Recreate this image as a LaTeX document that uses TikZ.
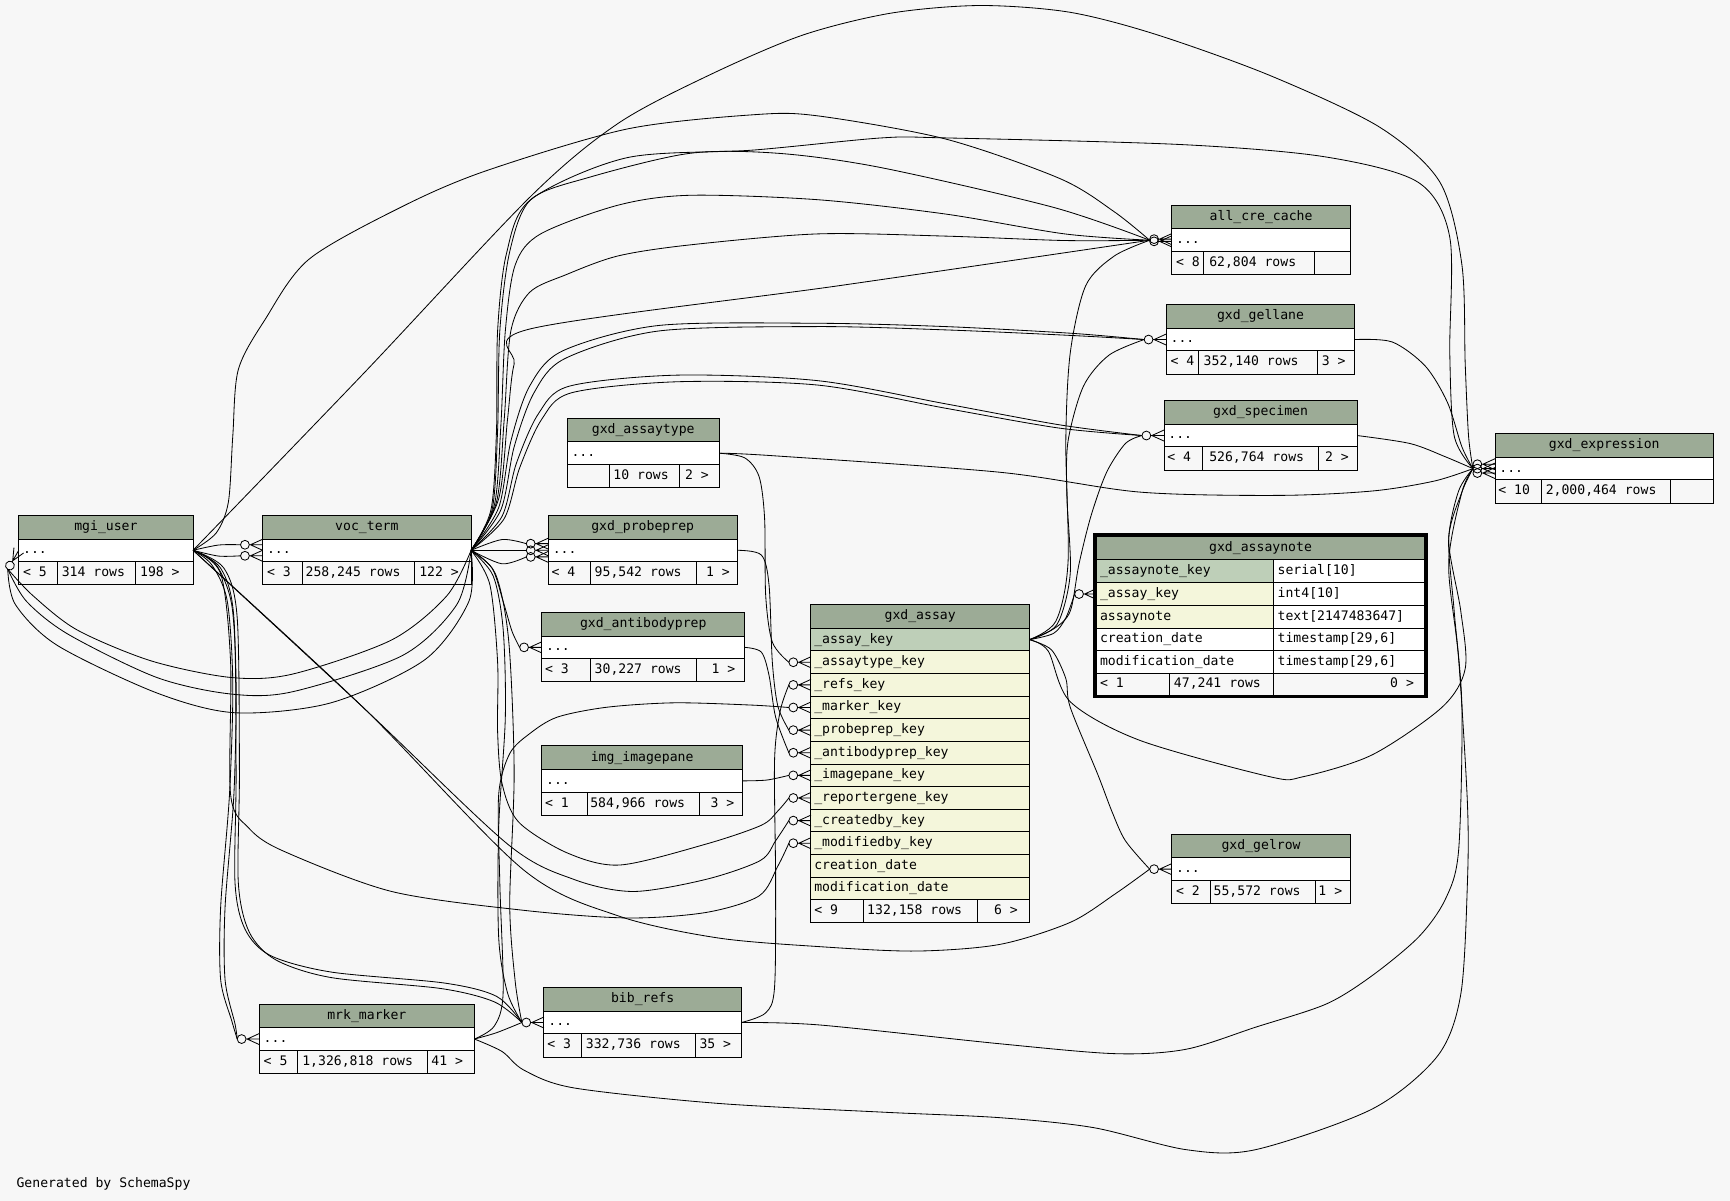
\documentclass[tikz,border=0pt]{standalone}
\usepackage{fontspec}
\setmainfont{DejaVu Sans Mono}
\definecolor{bgc}{RGB}{247,247,247}
\definecolor{hdrc}{RGB}{156,171,150}
\definecolor{keyc}{RGB}{190,207,184}
\definecolor{yelc}{RGB}{244,246,219}

\begin{document}
\begin{tikzpicture}[x=1pt,y=-1pt,
  every node/.style={font=\fontsize{11.9}{14}\selectfont,inner sep=0pt,outer sep=0pt,text height=8.7pt,text depth=2.5pt},
  cell/.style={draw,line width=0.85pt},
  rel/.style={line width=0.75pt},
  pics/crowodot/.style={code={
    \draw[rel] (-16,0) circle[radius=4pt];
    \draw[rel] (-12,0) -- (0,0) (-11,0) -- (0,-5) (-11,0) -- (0,5);}}]
\fill[bgc] (0,0) rectangle (1568,1088.5);
\useasboundingbox (0,0) rectangle (1568,1088.5);

% collapsed tables: name/title/x/y/width/sep/sep/footer/footer x
\foreach \nm/\ti/\x/\y/\ww/\sepa/\sepb/\fa/\fb/\fc/\pa/\pb/\pc in {
  mgi/mgi\_user/17/467/158/52/123/{< 5}/{314 rows}/{198 >}/21/56/127,
  voc/voc\_term/238/467/189/274/376/{< 3}/{258,245 rows}/{122 >}/242/277/380,
  prb/gxd\_probeprep/497/467/171/535/631/{< 4}/{95,542 rows}/{1 >}/500/539/640,
  ab/gxd\_antibodyprep/491/555/184/535/631/{< 3}/{30,227 rows}/{1 >}/494/539/645,
  img/img\_imagepane/491/676/182/532/634/{< 1}/{584,966 rows}/{3 >}/494/535/644,
  bib/bib\_refs/493/895/179/527/630/{< 3}/{332,736 rows}/{35 >}/496/531/634,
  mrk/mrk\_marker/235/910/195/270/387/{< 5}/{1,326,818 rows}/{41 >}/239/274/391,
  aty/gxd\_assaytype/514/379/138/552/616/{}/{10 rows}/{2 >}/517/556/621,
  acc/all\_cre\_cache/1062/186/162/1091/1191/{< 8}/{62,804 rows}/{}/1066/1096/1195,
  gel/gxd\_gellane/1057/276/171/1086/1194/{< 4}/{352,140 rows}/{3 >}/1061/1091/1198,
  spc/gxd\_specimen/1055/363/175/1090/1195/{< 4}/{526,764 rows}/{2 >}/1058/1096/1201,
  exp/gxd\_expression/1355/393/198/1397/1514/{< 10}/{2,000,464 rows}/{}/1358/1401/1518,
  gr/gxd\_gelrow/1062/756/162/1097/1192/{< 2}/{55,572 rows}/{1 >}/1066/1100/1195}{
  \draw[cell,fill=hdrc] (\x,\y) rectangle ++(\ww,21.5);
  \node (\nm-hd) at (\x+\ww/2,\y+10.75) {\ti};
  \node[cell,fill=white,anchor=north west,minimum width=\ww pt,minimum height=20.5pt] (\nm) at (\x,\y+21.5) {};
  \node[anchor=west] (\nm-dt) at (\x+4,\y+31.75) {...};
  \draw[cell] (\x,\y+42) rectangle ++(\ww,21) (\sepa,\y+42) -- ++(0,21) (\sepb,\y+42) -- ++(0,21);
  \node[anchor=west] (\nm-fa) at (\pa,\y+52.5) {\fa};
  \node[anchor=west] (\nm-fb) at (\pb,\y+52.5) {\fb};
  \node[anchor=west] (\nm-fc) at (\pc,\y+52.5) {\fc};
}

% gxd_assay
\draw[cell,fill=hdrc] (735,548) rectangle ++(198,21.5);
\node (asy-hd) at (834,558.75) {gxd\_assay};
\foreach \rw/\cn/\fl/\i in {akey/\_assay\_key/keyc/0, atype/\_assaytype\_key/yelc/1,
  arefs/\_refs\_key/yelc/2, amark/\_marker\_key/yelc/3, aprobe/\_probeprep\_key/yelc/4,
  aanti/\_antibodyprep\_key/yelc/5, aimg/\_imagepane\_key/yelc/6, arep/\_reportergene\_key/yelc/7,
  acre/\_createdby\_key/yelc/8, amod/\_modifiedby\_key/yelc/9, acd/creation\_date/yelc/10,
  amd/modification\_date/yelc/11}{
  \node[cell,fill=\fl,anchor=north west,minimum width=198pt,minimum height=20.5pt] (\rw) at (735,569.5+20.5*\i) {};
  \node[anchor=west] (\rw-t) at (738,579.75+20.5*\i) {\cn};
}
\draw[cell] (735,815.5) rectangle ++(198,21) (783,815.5) -- ++(0,21) (886,815.5) -- ++(0,21);
\node[anchor=west] (asy-fa) at (738,826) {< 9};
\node[anchor=west] (asy-fb) at (786,826) {132,158 rows};
\node[anchor=west] (asy-fc) at (901,826) {6 >};

% gxd_assaynote
\draw[cell,fill=hdrc] (994,486) rectangle (1291,507.5);
\node (note-hd) at (1142.5,497) {gxd\_assaynote};
\foreach \rw/\cn/\ty/\fl/\i in {nkey/\_assaynote\_key/serial[10]/keyc/0,
  nakey/\_assay\_key/int4[10]/yelc/1, nnote/assaynote/text[2147483647]/yelc/2,
  ncd/creation\_date/{timestamp[29,6]}/white/3, nmd/modification\_date/{timestamp[29,6]}/white/4}{
  \node[cell,fill=\fl,anchor=north west,minimum width=160.5pt,minimum height=20.6pt] (\rw) at (994,507.5+20.6*\i) {};
  \draw[cell,fill=white] (1154.5,507.5+20.6*\i) rectangle ++(136.5,20.6);
  \node[anchor=west] (\rw-t) at (997,517.8+20.6*\i) {\cn};
  \node[anchor=west] (\rw-ty) at (1158,517.8+20.6*\i) {\ty};
}
\draw[cell] (994,610.5) rectangle (1291,630) (1060,610.5) -- (1060,630) (1154.5,610.5) -- (1154.5,630);
\node[anchor=west] (note-fa) at (997,620.25) {< 1};
\node[anchor=west] (note-fb) at (1064,620.25) {47,241 rows};
\node[anchor=west] (note-fc) at (1260,620.25) {0 >};
\draw[line width=3pt] (992.5,484.5) rectangle (1292.5,631.5);

% free ends of the relations
\coordinate (mgi-in) at ([shift={(-10pt,-17pt)}]mgi.west);
\coordinate (voc-in1) at ([shift={(-20pt,5pt)}]voc.west);
\coordinate (voc-in2) at ([shift={(-20pt,-5pt)}]voc.west);
\coordinate (prb-in1) at ([shift={(-20pt,6pt)}]prb.west);
\coordinate (prb-in2) at ([xshift=-20pt]prb.west);
\coordinate (prb-in3) at ([shift={(-20pt,-6pt)}]prb.west);
\foreach \p in {ab,acc,gel,spc,exp,gr,bib,mrk,atype,arefs,amark,aprobe,aanti,aimg,arep,acre,amod,nakey}
  \coordinate (\p-in) at ([xshift=-20pt]\p.west);

% mgi_user
\draw[rel] plot[smooth] coordinates {(mgi.east) (198,494) (voc-in1)};
\draw[rel] plot[smooth] coordinates {(mgi.east) (198,504) (voc-in2)};
\draw[rel] plot[smooth] coordinates {(mgi.east) (196,483) (207,455) (211,395) (216,335) (240,290) (280,235) (365,187) (440,155) (568,117) (683,104) (741,105) (857,126) (961,162) (1010,192) (acc-in)};
\draw[rel] plot[smooth] coordinates {(mgi.east) (330,338) (481,178) (560,112) (643,68) (727,32) (807,12) (888,5) (969,11) (1047,31) (1150,68) (1250,115) (1305,165) (1325,240) (1328,330) (1331,395) (exp-in)};
\draw[rel] plot[smooth] coordinates {(mgi.east) (330,642) (474,788) (560,830) (650,850) (743,858) (830,862) (906,856) (970,836) (1011,810) (gr-in)};
\draw[rel] plot[smooth] coordinates {(mgi.east) (330,642) (460,765) (520,797) (574,808) (640,797) (689,780) (703,762) (acre-in)};
\draw[rel] plot[smooth] coordinates {(mgi.east) (192,512) (206,545) (211,620) (208,720) (200,822) (200,888) (210,925) (mrk-in)};
\draw[rel] plot[smooth] coordinates {(mgi.east) (196,512) (210,548) (214,620) (212,720) (204,822) (204,888) (213,928) (mrk-in)};
\draw[rel] plot[smooth] coordinates {(mgi.east) (200,515) (212,560) (214,700) (213,800) (222,842) (245,866) (300,881) (403,891) (450,903) (bib-in)};
\draw[rel] plot[smooth] coordinates {(mgi.east) (203,515) (215,560) (217,700) (216,800) (226,845) (250,870) (300,886) (400,896) (448,908) (bib-in)};
\draw[rel] plot[smooth] coordinates {(mgi.east) (200,520) (209,600) (209,720) (225,750) (256,771) (355,808) (474,825) (569,832) (640,827) (688,812) (705,785) (amod-in)};

% voc_term
\draw[rel] plot[smooth] coordinates {(voc.east) (405,540) (355,580) (265,611) (209,614) (137,599) (70,571) (30,540) (mgi-in)};
\draw[rel] plot[smooth] coordinates {(voc.east) (414,548) (365,594) (265,627) (209,629) (142,614) (62,575) (24,545) (mgi-in)};
\draw[rel] plot[smooth] coordinates {(voc.east) (425,545) (385,598) (300,637) (213,646) (142,628) (52,585) (14,548) (mgi-in)};
\draw[rel] plot[smooth] coordinates {(voc.east) (455,489) (prb-in1)};
\draw[rel] plot[smooth] coordinates {(voc.east) (prb-in2)};
\draw[rel] plot[smooth] coordinates {(voc.east) (455,511) (prb-in3)};
\draw[rel] plot[smooth] coordinates {(voc.east) (446,515) (456,545) (464,572) (ab-in)};
\draw[rel] plot[smooth] coordinates {(voc.east) (446,462) (451,390) (453,300) (462,228) (481,181) (533,161) (625,139) (706,139) (799,152) (955,188) (acc-in)};
\draw[rel] plot[smooth] coordinates {(voc.east) (448,458) (454,385) (458,300) (467,240) (490,212) (560,186) (625,177) (741,181) (857,194) (965,212) (acc-in)};
\draw[rel] plot[smooth] coordinates {(voc.east) (450,455) (457,380) (463,300) (480,265) (513,249) (560,232) (625,222) (741,212) (857,214) (965,218) (acc-in)};
\draw[rel] plot[smooth] coordinates {(voc.east) (452,452) (460,380) (466,330) (481,298) (760,259) (acc-in)};
\draw[rel] plot[smooth] coordinates {(voc.east) (452,460) (463,400) (480,350) (510,318) (597,295) (741,293) (857,296) (970,302) (gel-in)};
\draw[rel] plot[smooth] coordinates {(voc.east) (454,462) (466,405) (484,356) (512,325) (597,300) (741,296) (857,299) (970,304) (gel-in)};
\draw[rel] plot[smooth] coordinates {(voc.east) (455,468) (468,420) (488,375) (516,350) (614,340) (741,345) (857,366) (960,385) (spc-in)};
\draw[rel] plot[smooth] coordinates {(voc.east) (457,470) (471,424) (491,380) (518,356) (614,346) (741,349) (857,370) (960,388) (spc-in)};
\draw[rel] plot[smooth] coordinates {(voc.east) (445,462) (450,390) (451,300) (459,230) (481,181) (568,143) (683,136) (799,125) (857,125) (1070,131) (1200,142) (1285,165) (1314,215) (1314,320) (1318,395) (exp-in)};
\draw[rel] plot[smooth] coordinates {(voc.east) (444,530) (451,600) (451,663) (455,710) (470,745) (514,773) (562,784) (640,765) (690,748) (705,735) (arep-in)};
\draw[rel] plot[smooth] coordinates {(voc.east) (447,522) (456,570) (458,650) (452,750) (452,850) (460,900) (bib-in)};
\draw[rel] plot[smooth] coordinates {(voc.east) (449,520) (461,580) (466,700) (462,820) (467,890) (bib-in)};

% the other tables
\draw[rel] plot[smooth] coordinates {(aty.east) (675,415) (688,432) (693,470) (694,540) (700,582) (atype-in)};
\draw[rel] plot[smooth] coordinates {(aty.east) (700,413) (906,428) (1033,446) (1159,449) (1244,445) (1300,436) (exp-in)};
\draw[rel] plot[smooth] coordinates {(prb.east) (690,503) (697,530) (700,600) (705,640) (aprobe-in)};
\draw[rel] plot[smooth] coordinates {(ab.east) (690,591) (697,612) (703,650) (aanti-in)};
\draw[rel] plot[smooth] coordinates {(img.east) (695,707) (aimg-in)};
\draw[rel] plot[smooth] coordinates {(bib.east) (694,918) (702,895) (703,800) (702,690) (707,645) (arefs-in)};
\draw[rel] plot[smooth] coordinates {(bib.east) (743,929) (906,946) (1011,955) (1075,951) (1138,931) (1202,910) (1244,884) (1286,849) (1310,815) (1322,771) (1325,641) (1318,554) (1313,489) (1322,445) (exp-in)};
\draw[rel] plot[smooth] coordinates {(mrk.east) (450,936) (bib-in)};
\draw[rel] plot[smooth] coordinates {(mrk.east) (448,930) (456,900) (453,800) (452,720) (462,683) (480,665) (505,650) (550,641) (611,637) (680,639) (amark-in)};
\draw[rel] plot[smooth] coordinates {(mrk.east) (455,953) (475,970) (520,986) (650,1000) (800,1008) (906,1013) (991,1022) (1075,1042) (1138,1042) (1244,1005) (1303,957) (1324,901) (1330,800) (1330,728) (1322,597) (1313,511) (1325,446) (exp-in)};
\draw[rel] plot[smooth] coordinates {(akey.east) (957,563) (968,510) (966,400) (970,320) (984,259) (1010,232) (acc-in)};
\draw[rel] plot[smooth] coordinates {(akey.east) (958,566) (970,520) (967,450) (968,400) (982,350) (1005,322) (gel-in)};
\draw[rel] plot[smooth] coordinates {(akey.east) (955,570) (970,554) (978,511) (989,467) (1003,428) (1020,402) (spc-in)};
\draw[rel] plot[smooth] coordinates {(akey.east) (955,574) (966,560) (nakey-in)};
\draw[rel] plot[smooth] coordinates {(akey.east) (953,589) (966,615) (970,641) (995,702) (1008,736) (1020,762) (gr-in)};
\draw[rel] plot[smooth] coordinates {(akey.east) (950,590) (970,636) (1033,671) (1151,704) (1181,704) (1244,684) (1307,641) (1328,606) (1324,554) (1313,489) (1325,446) (exp-in)};
\draw[rel] plot[smooth] coordinates {(gel.east) (1262,310) (1292,332) (1312,365) (1325,405) (exp-in)};
\draw[rel] plot[smooth] coordinates {(spc.east) (1278,402) (1310,414) (exp-in)};

% crow's foot ends
\pic[rotate=60] at (mgi.west) {crowodot};
\pic at ([yshift=5pt]voc.west) {crowodot};
\pic at ([yshift=-5pt]voc.west) {crowodot};
\foreach \s in {6,0,-6} \pic at ([yshift=\s pt]prb.west) {crowodot};
\foreach \s in {4,0,-4} \pic at ([yshift=\s pt]exp.west) {crowodot};
\foreach \s in {1,-1} \pic at ([yshift=\s pt]acc.west) {crowodot};
\foreach \p in {ab,gel,spc,gr,bib,mrk,atype,arefs,amark,aprobe,aanti,aimg,arep,acre,amod,nakey}
  \pic at (\p.west) {crowodot};

\node[anchor=west] (gen) at (15,1073) {Generated by SchemaSpy};
\end{tikzpicture}
\end{document}
